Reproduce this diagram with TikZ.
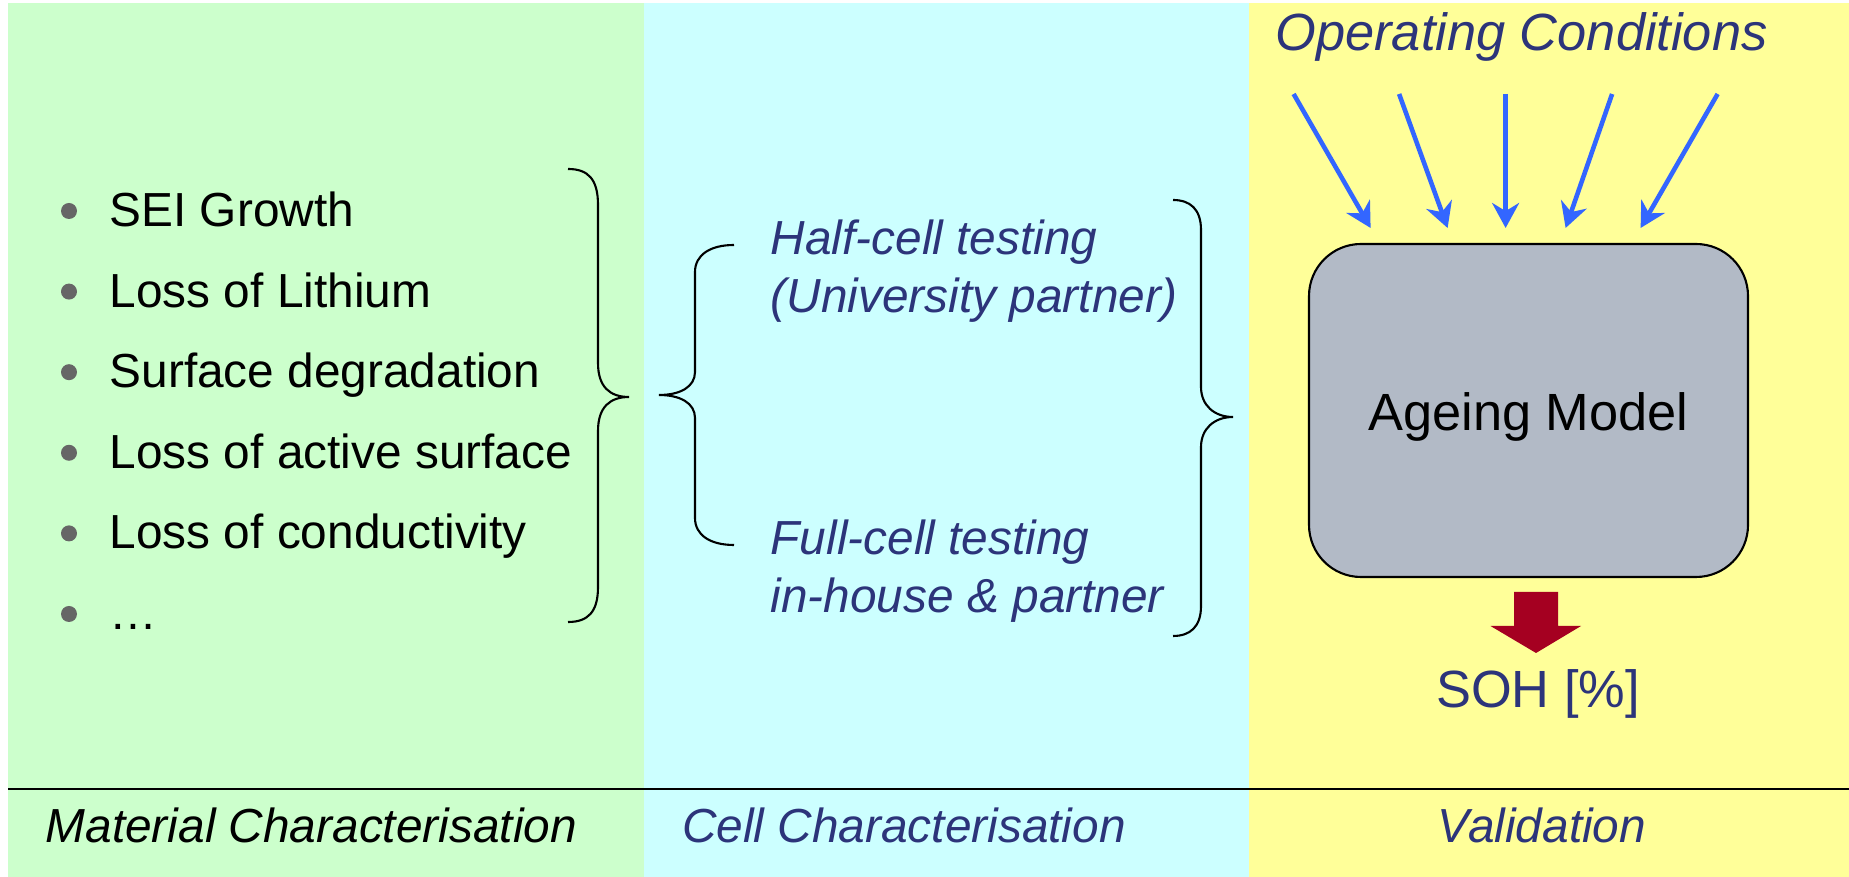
\documentclass[tikz,border=0pt]{standalone}
\usepackage{fontspec}
\setmainfont{Liberation Sans}
\usepackage{xcolor}
\usepackage{tikz}
\usetikzlibrary{arrows.meta}
\definecolor{panelgreen}{HTML}{CCFFCC}
\definecolor{panelcyan}{HTML}{CCFFFF}
\definecolor{panelyellow}{HTML}{FFFF99}
\definecolor{navy}{RGB}{44,52,122}
\definecolor{condblue}{HTML}{3366FF}
\definecolor{modelgrey}{RGB}{178,186,198}
\definecolor{sohred}{HTML}{A50021}
\definecolor{dotgrey}{HTML}{666666}

\begin{document}
\begin{tikzpicture}[x=0.1mm,y=0.1mm,
  txt/.style={inner sep=0pt,font=\fontsize{13.6}{16}\selectfont},
  bigtxt/.style={inner sep=0pt,font=\fontsize{14.9}{18}\selectfont},
  cond/.style={-{Stealth[length=2.5mm,width=2.7mm]},condblue,line width=1.3pt},
  curly/.style={line width=0.6pt}]
\useasboundingbox (0,0) rectangle (1849,877);
\fill[panelgreen](8,0) rectangle (644,874);
\fill[panelcyan](644,0) rectangle (1249,874);
\fill[panelyellow](1249,0) rectangle (1849,874);
\draw[line width=0.85pt](8,88)--(1849,88);
% bullet list
\foreach \t [count=\i from 0] in {SEI Growth,Loss of Lithium,Surface degradation,Loss of active surface,Loss of conductivity,…}{
  \fill[dotgrey](69,{666-80.6*\i}) circle (8);
  \node[txt,anchor=base west] (m\i) at (109,{650.5-80.6*\i}) {\t};
}
\draw[curly](568,708) .. controls (588,708) and (598,698) .. (598,672) -- (598,514)
  .. controls (598,490) and (610,480) .. (629,480) .. controls (610,480) and (598,470) .. (598,446)
  -- (598,290) .. controls (598,265) and (588,255) .. (568,255);
% cell testing
\draw[curly](734,632) .. controls (710,632) and (695,622) .. (695,605) -- (695,505)
  .. controls (695,490) and (680,482) .. (659,482) .. controls (680,482) and (695,474) .. (695,459)
  -- (695,359) .. controls (695,342) and (710,332) .. (734,332);
\node[txt,navy,font=\fontsize{13.6}{16}\selectfont\itshape,anchor=base west] (half1) at (770,622) {Half-cell testing};
\node[txt,navy,font=\fontsize{13.6}{16}\selectfont\itshape,anchor=base west] (half2) at (770,564.5) {(University partner)};
\node[txt,navy,font=\fontsize{13.6}{16}\selectfont\itshape,anchor=base west] (full1) at (770,322) {Full-cell testing};
\node[txt,navy,font=\fontsize{13.6}{16}\selectfont\itshape,anchor=base west] (full2) at (770,264) {in-house \& partner};
\draw[curly](1173,677) .. controls (1190,677) and (1201,668) .. (1201,647) -- (1201,490)
  .. controls (1201,472) and (1214,460) .. (1233,460) .. controls (1214,460) and (1201,448) .. (1201,430)
  -- (1201,271) .. controls (1201,250) and (1190,241) .. (1173,241);
% validation
\node[bigtxt,navy,font=\fontsize{14.9}{18}\selectfont\itshape,anchor=base] (cond) at (1521.5,826) {Operating Conditions};
\foreach \s/\e [count=\i] in {-212/-135,-106.5/-58,0/0,106.5/60,212/135}{
  \coordinate (oc\i) at ({1505.6+(\s)},783);
  \coordinate (om\i) at ({1505.6+(\e)},649);
  \draw[cond](oc\i)--(om\i);
}
\node[draw,fill=modelgrey,line width=0.6pt,rounded corners=5.2mm,minimum width=43.9mm,minimum height=33.3mm,bigtxt] (model) at (1528.5,466.5) {\raisebox{-0.65mm}[\height][\depth]{Ageing Model}};
\fill[sohred](1514,285)--(1558,285)--(1558,251)--(1581,251)--(1536,224)--(1490.5,251)--(1514,251)--cycle;
\node[bigtxt,navy,anchor=base] (soh) at (1538,169.5) {SOH [\%]};
% column captions
\node[txt,font=\fontsize{13.6}{16}\selectfont\itshape,anchor=base west] (mat) at (45,34) {Material Characterisation};
\node[txt,navy,font=\fontsize{13.6}{16}\selectfont\itshape,anchor=base] (cell) at (904,34) {Cell Characterisation};
\node[txt,navy,font=\fontsize{13.6}{16}\selectfont\itshape,anchor=base] (val) at (1542,34) {Validation};
\end{tikzpicture}
\end{document}
